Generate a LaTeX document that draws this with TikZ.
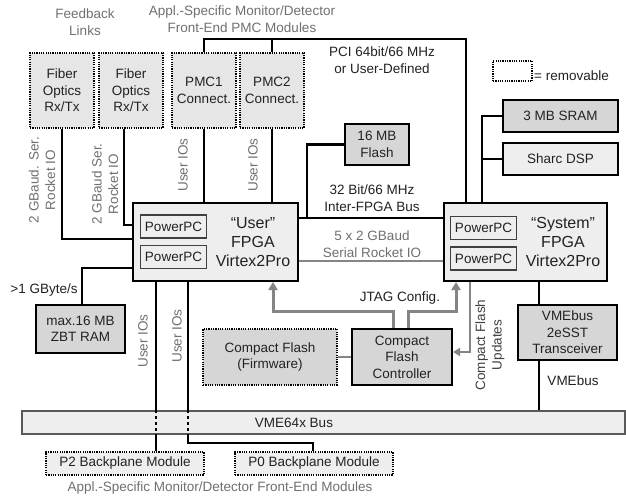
\documentclass[tikz,border=0pt]{standalone}
\usepackage{fontspec}
\setmainfont{Liberation Sans}
\usetikzlibrary{arrows.meta,calc}
\definecolor{txt}{HTML}{222222}
\definecolor{gtxt}{HTML}{707070}
\definecolor{fA}{HTML}{E6E6E6}
\definecolor{fD}{HTML}{D6D6D6}
\definecolor{fL}{HTML}{EEEEEE}
\definecolor{gline}{HTML}{858585}
\newcommand{\fs}{\fontsize{13.5}{16.5}\selectfont}
\newcommand{\fb}{\fontsize{16}{19}\selectfont}
\begin{document}
\begin{tikzpicture}[x=1pt,y=-1pt,
  every node/.style={font=\fs, inner sep=0pt, align=center, text=txt},
  box/.style={draw=black, line width=2pt, fill=#1},
  rembox/.style={draw=black, line width=2.6pt, dash pattern=on 1.2pt off 1.1pt, fill=#1},
  ppc/.style={draw=black!75, line width=1.2pt, fill=fL, minimum width=66pt, minimum height=23pt},
  lbl/.style={text=gtxt},
  wire/.style={draw=black, line width=2.4pt},
  dwire/.style={draw=black, line width=2.4pt, dash pattern=on 3pt off 3pt},
  gwire/.style={draw=gline, line width=2pt},
  jtag/.style={draw=gline, line width=3pt, -{Triangle[width=9pt,length=8pt]}},
  upd/.style={draw=gline, line width=2pt, -{Triangle[width=8pt,length=7pt]}},
]
\useasboundingbox[fill=white] (0,0) rectangle (626,497);

% top labels
\node[lbl] (fbl) at (85,22) {Feedback\\Links};
\node[lbl] (apl) at (242,19) {Appl.-Specific Monitor/Detector\\Front-End PMC Modules};
\node (pci) at (382,60) {PCI 64bit/66 MHz\\or User-Defined};
\node[rembox=white, minimum width=39pt, minimum height=20pt] (leg) at (512.5,71) {};
\node[anchor=west] (legt) at (534,76) {= removable};

% boxes
\node[rembox=fA, minimum width=64pt, minimum height=75pt] (fib1) at (62,90.5) {Fiber\\Optics\\Rx/Tx};
\node[rembox=fA, minimum width=64pt, minimum height=75pt] (fib2) at (131,90.5) {Fiber\\Optics\\Rx/Tx};
\node[rembox=fA, minimum width=64pt, minimum height=75pt] (pmc1) at (204,90.5) {PMC1\\Connect.};
\node[rembox=fA, minimum width=64pt, minimum height=75pt] (pmc2) at (272,90.5) {PMC2\\Connect.};

\node[box=fD, minimum width=64pt, minimum height=41pt] (flash) at (377,144.5) {16 MB\\Flash};
\node[box=fD, minimum width=115pt, minimum height=32pt] (sram) at (560.5,116) {3 MB SRAM};
\node[box=fL, minimum width=115pt, minimum height=32pt] (sharc) at (560.5,159) {Sharc DSP};

\node[box=fL, minimum width=165pt, minimum height=78pt] (user) at (215.5,242) {};
\node[ppc] (uppc1) at (173.5,226.5) {PowerPC};
\node[ppc] (uppc2) at (173.5,257) {PowerPC};
\node[font=\fb] (ulab) at (253,242) {“User”\\FPGA\\Virtex2Pro};

\node[box=fL, minimum width=163pt, minimum height=78pt] (sys) at (525.5,242) {};
\node[ppc] (sppc1) at (483.5,228) {PowerPC};
\node[ppc] (sppc2) at (483.5,258.5) {PowerPC};
\node[font=\fb] (slab) at (563,242) {“System”\\FPGA\\Virtex2Pro};

\node[box=fD, minimum width=89pt, minimum height=48pt] (zbt) at (80.5,329) {max.16 MB\\ZBT RAM};
\node[rembox=fD, minimum width=134pt, minimum height=56pt] (cff) at (270,357) {Compact Flash\\(Firmware)};
\node[box=fD, minimum width=100pt, minimum height=56pt] (cfc) at (402,357) {Compact\\Flash\\Controller};
\node[box=fD, minimum width=99pt, minimum height=55pt] (vmet) at (567.5,332.5) {VMEbus\\2eSST\\Transceiver};

\node[draw=black!65, line width=1.5pt, fill=fL, minimum width=603pt, minimum height=23pt] (vme) at (323.5,422.5) {};
\node (vmel) at (294,422.5) {VME64x Bus};

\node[rembox=fL, minimum width=158pt, minimum height=23pt] (p2) at (125,463.5) {P2 Backplane Module};
\node[rembox=fL, minimum width=158pt, minimum height=23pt] (p0) at (314,463.5) {P0 Backplane Module};
\node[lbl] (bot) at (220,488) {Appl.-Specific Monitor/Detector Front-End Modules};

% side labels
\node[lbl, rotate=90] (gb1) at (42,180) {2 GBaud. Ser.\\Rocket IO};
\node[lbl, rotate=90] (gb2) at (105,184) {2 GBaud Ser.\\Rocket IO};
\node[lbl, rotate=90] (uio1) at (183,165) {User IOs};
\node[lbl, rotate=90] (uio2) at (253,165) {User IOs};
\node (ifb) at (372,198) {32 Bit/66 MHz\\Inter-FPGA Bus};
\node[lbl] (srio) at (372,244) {5 x 2 GBaud\\Serial Rocket IO};
\node (gbs) at (44,290) {>1 GByte/s};
\node[lbl, rotate=90] (uio3) at (143,341) {User IOs};
\node[lbl, rotate=90] (uio4) at (177,336) {User IOs};
\node (jtl) at (400,298) {JTAG Config.};
\node[rotate=90, text=black!75] (cfu) at (490,345) {Compact Flash\\Updates};
\node (vmebl) at (573,381) {VMEbus};

% connectors
\draw[wire] (pmc1.north) -- (pmc1.north |- 0,39) -| (sys.north -| 466,0);
\draw[wire] (pmc2.north) -- (pmc2.north |- 0,39);
\draw[wire] (fib1.south) |- (user.west |- 0,239);
\draw[wire] ([xshift=-7pt]fib2.south) |- (user.west |- 0,225);
\draw[wire] (pmc1.south) -- (pmc1.south |- user.north);
\draw[wire] (pmc2.south) -- (pmc2.south |- user.north);
\draw[wire] (user.east |- 0,218) -- (sys.west |- 0,218);
\coordinate (fj) at (307,218);
\draw[wire] (flash.west) -| (fj);
\draw[gwire] (user.east |- 0,261) -- (sys.west |- 0,261);
\draw[wire] (sram.west) -| (sys.north -| 482,0);
\draw[wire] (sharc.west) -- (sharc.west -| 482,0);
\draw[wire] ([xshift=1.5pt]zbt.north) |- (user.west |- 0,268);

\draw[wire] (user.south -| 156,0) -- (vme.north -| 156,0);
\draw[dwire] (vme.north -| 156,0) -- (vme.south -| 156,0);
\draw[wire] (vme.south -| 156,0) -- (p2.north -| 156,0);
\draw[wire] (user.south -| 188,0) -- (vme.north -| 188,0);
\draw[dwire] (vme.north -| 188,0) -- (vme.south -| 188,0);
\draw[wire] (vme.south -| 188,0) |- (313,443) -- (p0.north -| 313,0);

\draw[jtag] (cfc.north -| 393,0) |- (273,311) -- (user.south -| 273,0);
\draw[jtag] (cfc.north -| 408,0) |- (456,311) -- (sys.south -| 456,0);
\draw[upd] (sys.south -| 470,0) |- (cfc.east |- 0,352);
\draw[gwire] (cff.east) -- (cfc.west);
\draw[wire] (sys.south -| 539,0) -- (vmet.north -| 539,0);
\draw[wire] (vmet.south -| 539,0) -- (vme.north -| 539,0);
\end{tikzpicture}
\end{document}
